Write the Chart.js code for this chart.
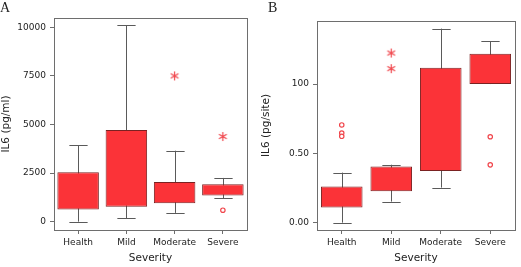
<!DOCTYPE html>
<html>
<head>
<meta charset="utf-8">
<script src="https://cdn.jsdelivr.net/npm/chart.js@4"></script>
<style>
  body { margin: 0; background: #fff; }
  #wrap { position: relative; width: 521px; height: 267px; }
  .panel { position: absolute; top: 0; height: 267px; }
  .tag { position: absolute; top: 0; font-family: "Liberation Serif", "DejaVu Serif", serif; font-size: 14px; color: #222; }
</style>
</head>
<body>
<div id="wrap">
  <div class="panel" style="left:0;width:260px"><canvas id="chartA" width="260" height="267"></canvas></div>
  <div class="panel" style="left:260px;width:261px"><canvas id="chartB" width="261" height="267"></canvas></div>
  <div class="tag" style="left:0">A</div>
  <div class="tag" style="left:268px">B</div>
</div>
<script>
var categories = ['Health', 'Mild', 'Moderate', 'Severe'];

// panel A: IL6 (pg/ml)
var lowA = [0, 175, 450, 1200];
var q1A = [620, 770, 950, 1340];
var q3A = [2540, 4720, 2040, 1920];
var highA = [3940, 10100, 3650, 2250];
var starsA = [{x: 'Moderate', y: 7500}, {x: 'Severe', y: 4380}];
var circlesA = [{x: 'Severe', y: 590}];
var ticksA = [0, 2500, 5000, 7500, 10000];
var tickLabelsA = ['0', '2500', '5000', '7500', '10000'];

// panel B: IL6 (pg/site)
var lowB = [0, 0.152, 0.253, 1.0];
var q1B = [0.11, 0.226, 0.372, 1.0];
var q3B = [0.26, 0.406, 1.118, 1.219];
var highB = [0.361, 0.418, 1.40, 1.31];
var starsB = [{x: 'Mild', y: 1.224}, {x: 'Mild', y: 1.111}];
var circlesB = [{x: 'Health', y: 0.705}, {x: 'Health', y: 0.647}, {x: 'Health', y: 0.623},
                {x: 'Severe', y: 0.62}, {x: 'Severe', y: 0.417}];
var ticksB = [0, 0.5, 1.0];
var tickLabelsB = ['0.00', '0.50', '100'];

var boxFill = '#fb3338';
var boxEdge = '#7a2222';
var outlierRed = '#f0454b';
var frameGray = '#6e6e6e';
var textColor = '#222';

// six-armed asterisk marker
var asterisk = document.createElement('canvas');
asterisk.width = 11;
asterisk.height = 11;
(function () {
    var c = asterisk.getContext('2d');
    c.strokeStyle = outlierRed;
    c.lineWidth = 1.2;
    c.beginPath();
    for (var k = 0; k < 3; k++) {
        var a = Math.PI / 2 + k * Math.PI / 3;
        c.moveTo(5.5 + 4.5 * Math.cos(a), 5.5 + 4.5 * Math.sin(a));
        c.lineTo(5.5 - 4.5 * Math.cos(a), 5.5 - 4.5 * Math.sin(a));
    }
    c.stroke();
})();

var whiskers = {
    id: 'whiskers',
    beforeDatasetsDraw: function (chart, args, opts) {
        var ctx = chart.ctx;
        var y = chart.scales.y;
        var bars = chart.getDatasetMeta(0).data;
        ctx.save();
        ctx.strokeStyle = '#5a5a5a';
        ctx.lineWidth = 1;
        bars.forEach(function (bar, i) {
            var cx = Math.round(bar.x) + 0.5;
            var half = bar.width * 0.22;
            var yl = y.getPixelForValue(opts.low[i]);
            var yh = y.getPixelForValue(opts.high[i]);
            ctx.beginPath();
            ctx.moveTo(cx, yl);
            ctx.lineTo(cx, yh);
            if (opts.low[i] < opts.q1[i]) {
                ctx.moveTo(cx - half, Math.round(yl) + 0.5);
                ctx.lineTo(cx + half, Math.round(yl) + 0.5);
            }
            ctx.moveTo(cx - half, Math.round(yh) + 0.5);
            ctx.lineTo(cx + half, Math.round(yh) + 0.5);
            ctx.stroke();
        });
        ctx.restore();
    },
    afterDraw: function (chart) {
        var a = chart.chartArea;
        var ctx = chart.ctx;
        ctx.save();
        ctx.strokeStyle = frameGray;
        ctx.lineWidth = 1;
        ctx.strokeRect(Math.round(a.left) + 0.5, Math.round(a.top) + 0.5,
                       Math.round(a.right - a.left), Math.round(a.bottom - a.top));
        ctx.restore();
    }
};

function makeChart(id, low, q1, q3, high, stars, circles, tickVals, tickLabels, yMin, yMax, yTitle, pad, yWidth, barPct) {
    var ctx = document.getElementById(id).getContext('2d');
    return new Chart(ctx, {
        type: 'bar',
        data: {
            labels: categories,
            datasets: [{
                data: categories.map(function (c, i) { return [q1[i], q3[i]]; }),
                backgroundColor: boxFill,
                borderColor: boxEdge,
                borderWidth: 1,
                borderSkipped: false,
                barPercentage: barPct,
                categoryPercentage: 1,
                order: 2
            }, {
                type: 'line',
                data: stars,
                showLine: false,
                pointStyle: asterisk,
                pointRadius: 5,
                order: 1
            }, {
                type: 'line',
                data: circles,
                showLine: false,
                pointStyle: 'circle',
                pointRadius: 2.2,
                backgroundColor: '#fff',
                borderColor: outlierRed,
                borderWidth: 1.2,
                order: 1
            }]
        },
        options: {
            responsive: false,
            animation: false,
            layout: { padding: pad },
            plugins: {
                legend: { display: false },
                tooltip: { enabled: false },
                whiskers: { low: low, q1: q1, q3: q3, high: high }
            },
            scales: {
                x: {
                    offset: true,
                    grid: { offset: false, drawOnChartArea: false, drawTicks: true, tickLength: 4, color: frameGray },
                    border: { display: false },
                    ticks: { padding: 3, color: textColor, font: { family: 'DejaVu Sans', size: 9 }, maxRotation: 0 },
                    title: { display: true, text: 'Severity', color: textColor, padding: { top: 0, bottom: 2 },
                             font: { family: 'DejaVu Sans', size: 10.5 } },
                    afterFit: function (s) { s.height = 37; }
                },
                y: {
                    min: yMin,
                    max: yMax,
                    afterBuildTicks: function (s) {
                        s.ticks = tickVals.map(function (v) { return {value: v}; });
                    },
                    grid: { drawOnChartArea: false, drawTicks: true, tickLength: 4, color: frameGray },
                    border: { display: false },
                    ticks: {
                        padding: 4, color: textColor, font: { family: 'DejaVu Sans', size: 9 },
                        callback: function (v) { return tickLabels[tickVals.indexOf(v)]; }
                    },
                    title: { display: true, text: yTitle, color: textColor, padding: 0,
                             font: { family: 'DejaVu Sans', size: 10.5 } },
                    afterFit: function (s) { s.width = yWidth; }
                }
            }
        },
        plugins: [whiskers]
    });
}

makeChart('chartA', lowA, q1A, q3A, highA, starsA, circlesA, ticksA, tickLabelsA,
          -430, 10480, 'IL6 (pg/ml)', { top: 18, right: 13, left: 0, bottom: 0 }, 54, 0.86);
makeChart('chartB', lowB, q1B, q3B, highB, starsB, circlesB, ticksB, tickLabelsB,
          -0.053, 1.455, 'IL6 (pg/site)', { top: 21, right: 2, left: 0, bottom: 0 }, 57, 0.84);
</script>
</body>
</html>
